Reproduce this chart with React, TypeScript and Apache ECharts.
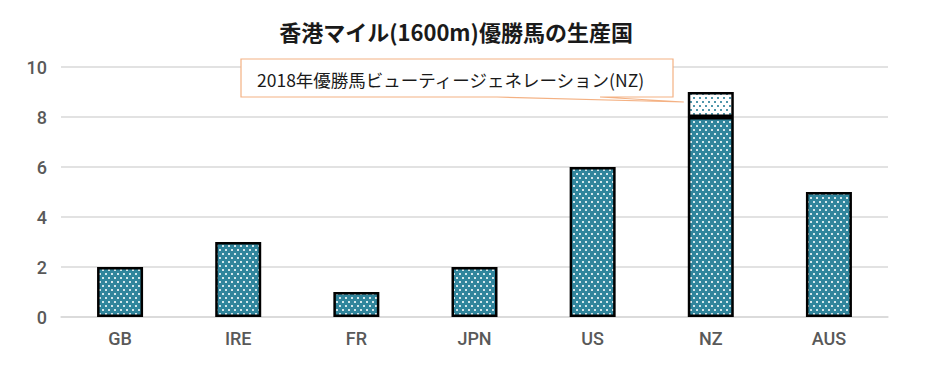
import React, { useEffect, useRef } from "react";
import * as echarts from "echarts";

const categories = ["GB", "IRE", "FR", "JPN", "US", "NZ", "AUS"];
const winsBase = [2, 3, 1, 2, 6, 8, 5];
const winsHighlight = ["-", "-", "-", "-", "-", 1, "-"];
const yTicks = [0, 2, 4, 6, 8, 10];
const titleText = "香港マイル(1600m)優勝馬の生産国";
const calloutText = "2018年優勝馬ビューティージェネレーション(NZ)";

const TEAL = "#31859C";
const OFF = 8; // body margin

function makePattern(bg: string, dot: string) {
  const c = document.createElement("canvas");
  c.width = 6;
  c.height = 8;
  const ctx = c.getContext("2d")!;
  ctx.fillStyle = bg;
  ctx.fillRect(0, 0, 6, 8);
  ctx.fillStyle = dot;
  ctx.fillRect(1, 1, 2, 2);
  ctx.fillRect(4, 5, 2, 2);
  return { image: c.toDataURL(), repeat: "repeat", imageWidth: 6, imageHeight: 8 };
}

export default function App() {
  const ref = useRef<HTMLDivElement>(null);
  useEffect(() => {
    if (!ref.current) return;
    const chart = echarts.init(ref.current, null, { renderer: "svg" });
    const fillDark = makePattern(TEAL, "rgba(255,255,255,0.8)");
    const fillLight = makePattern("#ffffff", "rgba(49,133,156,0.85)");
    const labelFont = "Roboto, Liberation Sans, Arial, sans-serif";
    const option: any = {
      animation: false,
      backgroundColor: "#ffffff",
      grid: { left: 61 - OFF, right: 43, top: 67 - OFF, bottom: 47, containLabel: false },
      xAxis: {
        type: "category",
        data: categories,
        axisLine: { show: true, lineStyle: { color: "#D9D9D9", width: 1.5 } },
        axisTick: { show: false },
        axisLabel: { color: "#595959", fontSize: 18, fontWeight: 500, fontFamily: labelFont, margin: 12 },
      },
      yAxis: {
        type: "value",
        min: yTicks[0],
        max: yTicks[yTicks.length - 1],
        interval: 2,
        axisLine: { show: false },
        axisTick: { show: false },
        splitLine: { lineStyle: { color: "#D9D9D9", width: 1.5 } },
        axisLabel: { color: "#595959", fontSize: 18, fontWeight: 500, fontFamily: labelFont, margin: 14 },
      },
      series: [
        {
          type: "bar",
          stack: "total",
          data: winsBase,
          barWidth: 46,
          itemStyle: { color: fillDark, borderColor: "#000000", borderWidth: 2.5 },
        },
        {
          type: "bar",
          stack: "total",
          data: winsHighlight,
          barWidth: 46,
          itemStyle: { color: fillLight, borderColor: "#000000", borderWidth: 2.5 },
        },
      ],
    };
    chart.setOption(option);

    const nzIdx = categories.indexOf("NZ");
    const tip = chart.convertToPixel({ seriesIndex: 0 }, [nzIdx, 8.6]) as number[];
    const tipX = tip[0] - 27;
    const tipY = tip[1];
    const bx = 241 - OFF, by = 59 - OFF, bw = 432, bh = 38;
    chart.setOption({
      graphic: [
        {
          type: "text",
          x: 456 - OFF,
          y: 31 - OFF,
          style: {
            text: titleText,
            fontSize: 22,
            fontWeight: "bold",
            fontFamily: "Noto Sans CJK JP, sans-serif",
            fill: "#1a1a1a",
            align: "center",
            verticalAlign: "middle",
          },
        },
        {
          type: "polygon",
          z: 100,
          shape: {
            points: [
              [bx, by],
              [bx + bw, by],
              [bx + bw, by + bh],
              [600 - OFF, by + bh],
              [tipX, tipY],
              [497 - OFF, by + bh],
              [bx, by + bh],
            ],
          },
          style: { fill: "#ffffff", stroke: "#F4B183", lineWidth: 1.2 },
        },
        {
          type: "text",
          z: 101,
          x: 257 - OFF,
          y: by + bh / 2 + 1,
          style: {
            text: calloutText,
            fontSize: 17.5,
            fontFamily: "Noto Sans CJK JP, sans-serif",
            fill: "#1a1a1a",
            verticalAlign: "middle",
          },
        },
      ],
    });
    return () => chart.dispose();
  }, []);
  return <div ref={ref} style={{ width: 923, height: 356 }} />;
}
